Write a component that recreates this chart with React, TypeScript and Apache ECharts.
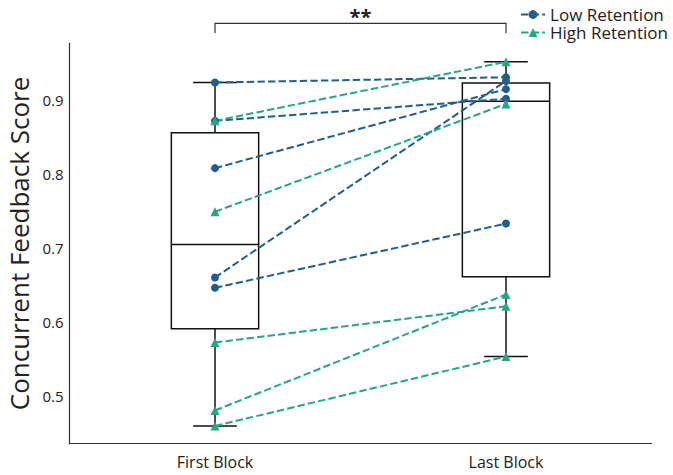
import React, { useEffect, useRef } from "react";
import * as echarts from "echarts";

const categories = ["First Block", "Last Block"];
const lowRetentionFirst = [0.924, 0.872, 0.808, 0.66, 0.646];
const lowRetentionLast = [0.931, 0.902, 0.915, 0.926, 0.733];
const highRetentionFirst = [0.872, 0.749, 0.572, 0.48, 0.459];
const highRetentionLast = [0.952, 0.895, 0.621, 0.637, 0.553];
const yTickValues = [0.5, 0.6, 0.7, 0.8, 0.9];
const yRange = [0.435, 0.977];
const bracketLevels = [1.004, 0.991];
const bracketLabel = "**";

const BLUE = "#1f5f8b";
const GREEN = "#22a884";
const INK = "#222222";
const FONT = "'Open Sans', sans-serif";

function quantile(sorted: number[], p: number) {
  const pos = (sorted.length - 1) * p;
  const lo = Math.floor(pos);
  const hi = Math.ceil(pos);
  return sorted[lo] + (sorted[hi] - sorted[lo]) * (pos - lo);
}

function boxStats(values: number[]) {
  const s = [...values].sort((a, b) => a - b);
  const q1 = quantile(s, 0.25);
  const med = quantile(s, 0.5);
  const q3 = quantile(s, 0.75);
  const iqr = q3 - q1;
  const lo = s.find((v) => v >= q1 - 1.5 * iqr) as number;
  const hi = [...s].reverse().find((v) => v <= q3 + 1.5 * iqr) as number;
  return [lo, q1, med, q3, hi];
}

export default function App() {
  const ref = useRef<HTMLDivElement>(null);

  useEffect(() => {
    if (!ref.current) return;
    const chart = echarts.init(ref.current, null, { renderer: "svg" });

    const firstAll = [...lowRetentionFirst, ...highRetentionFirst];
    const lastAll = [...lowRetentionLast, ...highRetentionLast];
    const boxData = [boxStats(firstAll), boxStats(lastAll)].map((s, i) => [i, ...s]);

    const dash = [7.4, 3.2];

    const pairSeries = (
      name: string,
      first: number[],
      last: number[],
      color: string,
      symbol: string,
      size: number
    ) =>
      first.map((v, i) => ({
        type: "line",
        name,
        data: [
          [0, v],
          [1, last[i]],
        ],
        symbol,
        symbolSize: size,
        showSymbol: true,
        lineStyle: { color, width: 2, type: dash },
        itemStyle: { color },
        z: 3,
        silent: true,
        emphasis: { disabled: true },
      }));

    const option: any = {
      animation: false,
      grid: {
        left: 69.5,
        right: 21.5,
        top: 43.3,
        bottom: 31.3,
        containLabel: false,
        outerBoundsMode: "none",
      },
      legend: {
        data: ["Low Retention", "High Retention"],
        orient: "vertical",
        right: 5,
        top: 6,
        padding: 0,
        itemWidth: 24,
        itemHeight: 11,
        itemGap: 1,
        textStyle: { fontSize: 17, lineHeight: 17, color: INK, fontFamily: FONT },
        selectedMode: false,
      },
      xAxis: {
        type: "category",
        data: categories,
        boundaryGap: true,
        axisLine: { show: true, lineStyle: { color: "#333", width: 1.2 } },
        axisTick: { show: false },
        axisLabel: { fontSize: 16, color: INK, margin: 10, fontFamily: FONT },
        splitLine: { show: false },
      },
      yAxis: {
        type: "value",
        min: yRange[0],
        max: yRange[1],
        name: "Concurrent Feedback Score",
        nameLocation: "middle",
        nameGap: 34,
        nameTextStyle: { fontSize: 26, color: INK, fontFamily: FONT },
        axisLine: { show: true, lineStyle: { color: "#333", width: 1.2 } },
        axisTick: { show: false },
        splitLine: { show: false },
        axisLabel: {
          customValues: yTickValues,
          formatter: (v: number) => v.toFixed(1),
          fontSize: 15,
          color: INK,
          margin: 6,
          fontFamily: FONT,
        },
      },
      series: [
        {
          type: "custom",
          name: "box",
          data: boxData,
          z: 1,
          silent: true,
          renderItem: (params: any, api: any) => {
            const i = api.value(0);
            const lo = api.value(1);
            const q1 = api.value(2);
            const med = api.value(3);
            const q3 = api.value(4);
            const hi = api.value(5);
            const band = api.size([1, 0])[0];
            const boxW = band * 0.3;
            const capW = boxW / 2;
            const pLo = api.coord([i, lo]);
            const pQ1 = api.coord([i, q1]);
            const pMed = api.coord([i, med]);
            const pQ3 = api.coord([i, q3]);
            const pHi = api.coord([i, hi]);
            const x = pLo[0];
            const st = { stroke: "#111", lineWidth: 1.5, fill: "none" };
            return {
              type: "group",
              children: [
                { type: "line", shape: { x1: x, y1: pQ1[1], x2: x, y2: pLo[1] }, style: st },
                { type: "line", shape: { x1: x, y1: pQ3[1], x2: x, y2: pHi[1] }, style: st },
                { type: "line", shape: { x1: x - capW / 2, y1: pLo[1], x2: x + capW / 2, y2: pLo[1] }, style: st },
                { type: "line", shape: { x1: x - capW / 2, y1: pHi[1], x2: x + capW / 2, y2: pHi[1] }, style: st },
                {
                  type: "rect",
                  shape: { x: x - boxW / 2, y: pQ3[1], width: boxW, height: pQ1[1] - pQ3[1] },
                  style: st,
                },
                { type: "line", shape: { x1: x - boxW / 2, y1: pMed[1], x2: x + boxW / 2, y2: pMed[1] }, style: st },
              ],
            };
          },
        },
        {
          type: "custom",
          name: "bracket",
          data: [[0, 1, bracketLevels[0], bracketLevels[1]]],
          clip: false,
          z: 5,
          silent: true,
          renderItem: (params: any, api: any) => {
            const a = api.value(0);
            const b = api.value(1);
            const top = api.value(2);
            const bottom = api.value(3);
            const aTop = api.coord([a, top]);
            const aBot = api.coord([a, bottom]);
            const bTop = api.coord([b, top]);
            const bBot = api.coord([b, bottom]);
            const st = { stroke: "#333", lineWidth: 1.2, fill: "none" };
            return {
              type: "group",
              children: [
                {
                  type: "polyline",
                  shape: { points: [aBot, aTop, bTop, bBot] },
                  style: st,
                },
                {
                  type: "text",
                  x: (aTop[0] + bTop[0]) / 2,
                  y: aTop[1] + 3,
                  style: {
                    text: bracketLabel,
                    fill: INK,
                    fontSize: 20,
                    fontWeight: "bold",
                    fontFamily: FONT,
                    align: "center",
                    verticalAlign: "bottom",
                  },
                },
              ],
            };
          },
        },
        ...pairSeries("Low Retention", lowRetentionFirst, lowRetentionLast, BLUE, "circle", 8),
        ...pairSeries("High Retention", highRetentionFirst, highRetentionLast, GREEN, "triangle", 9),
      ],
    };

    chart.setOption(option);
    return () => chart.dispose();
  }, []);

  return (
    <div
      ref={ref}
      style={{ position: "absolute", left: 0, top: 0, width: 673, height: 475 }}
    />
  );
}
